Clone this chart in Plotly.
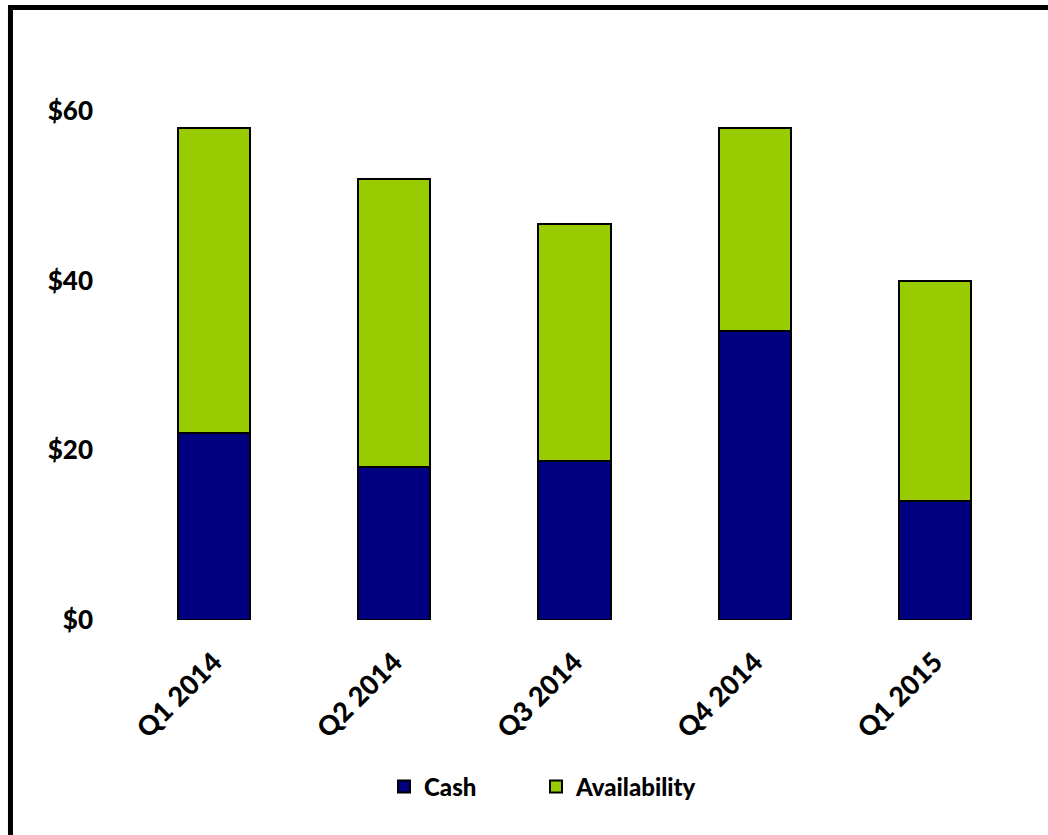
import plotly.graph_objects as go

quarters = ["Q1 2014", "Q2 2014", "Q3 2014", "Q4 2014", "Q1 2015"]
cash = [22, 18, 18.7, 34, 14]
availability = [36, 34, 28, 24, 26]
y_ticks = [0, 20, 40, 60]
y_tick_text = ["$0", "$20", "$40", "$60"]

FONT = "Lato"
legend_font = dict(family=FONT, size=24, weight=900, color="black")

fig = go.Figure()
fig.add_trace(go.Bar(
    x=quarters, y=cash, name="Cash", legend="legend",
    marker=dict(color="#000080", line=dict(color="#000000", width=2)),
))
fig.add_trace(go.Bar(
    x=quarters, y=availability, name="Availability", legend="legend2",
    marker=dict(color="#99CC00", line=dict(color="#000000", width=2)),
))

fig.update_layout(
    barmode="stack",
    bargap=0.6,
    width=1048, height=835,
    margin=dict(l=124, r=23, t=26, b=215),
    paper_bgcolor="white", plot_bgcolor="white",
    font=dict(family=FONT, color="black"),
    showlegend=True,
    legend=dict(
        orientation="h", x=0.2886, xanchor="left", y=-0.281, yanchor="middle",
        font=legend_font, itemwidth=30, bgcolor="rgba(0,0,0,0)",
    ),
    legend2=dict(
        orientation="h", x=0.4573, xanchor="left", y=-0.281, yanchor="middle",
        font=legend_font, itemwidth=30, bgcolor="rgba(0,0,0,0)",
    ),
    xaxis=dict(
        showgrid=False, showline=False, zeroline=False,
        tickangle=-45,
        tickfont=dict(family=FONT, size=27, weight=900, color="black"),
        ticklabelstandoff=20,
    ),
    yaxis=dict(
        range=[0, 70], showgrid=False, showline=False, zeroline=False,
        tickvals=y_ticks, ticktext=y_tick_text,
        tickfont=dict(family=FONT, size=26, weight=900, color="black"),
        ticklabelstandoff=30,
    ),
    shapes=[dict(
        type="rect", xref="paper", yref="paper",
        x0=-0.126, x1=1.2, y0=-0.6, y1=1.0311,
        line=dict(color="black", width=5), fillcolor="rgba(0,0,0,0)",
        layer="above",
    )],
)

fig.write_html("out.html")
